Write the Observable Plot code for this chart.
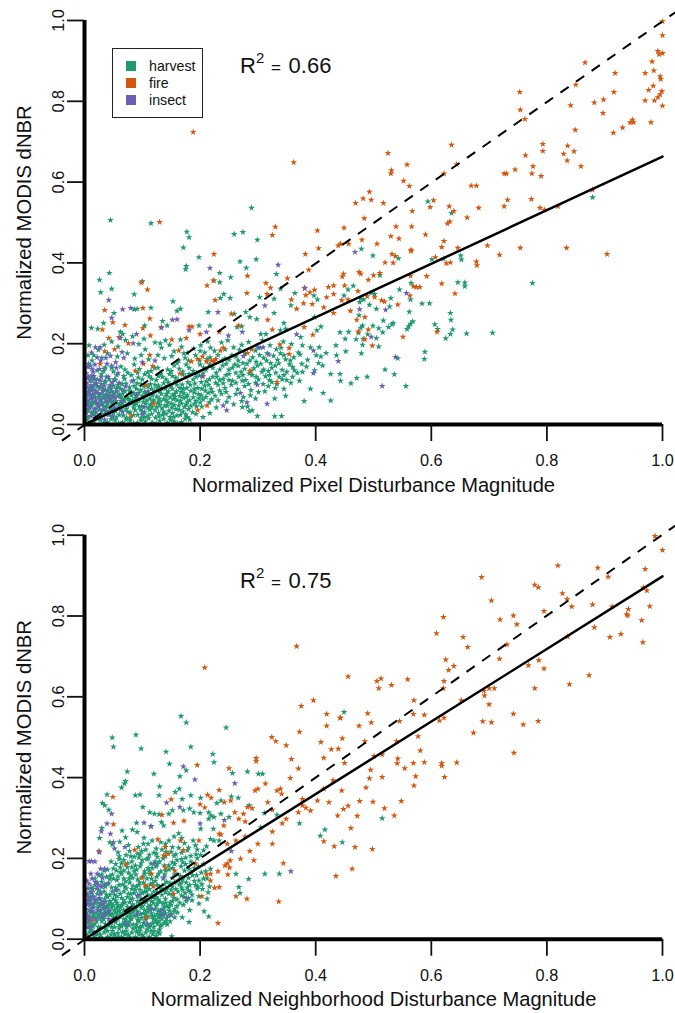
<!DOCTYPE html>
<html><head><meta charset="utf-8">
<script src="https://cdn.jsdelivr.net/npm/d3@7"></script>
<script src="https://cdn.jsdelivr.net/npm/@observablehq/plot@0.6"></script>
<style>
html,body{margin:0;padding:0;background:#fff;width:675px;height:1013px;overflow:hidden;font-family:"Liberation Sans",Arial,sans-serif;color:#111}
#wrap{position:relative;width:675px;height:1013px}
#wrap svg{display:block;position:absolute;left:0;overflow:visible}
.r2{position:absolute;font-size:22px;line-height:26px;white-space:nowrap}
.r2 sup{font-size:15px;line-height:0;vertical-align:10px;margin-left:0}
.r2 .eq{font-size:17px;margin:0 3px 0 2px}
#legend{position:absolute;left:112px;top:48px;width:89px;height:68px;border:1.6px solid #222;background:#fff;font-size:14.2px}
#legend div{position:absolute;left:36px;white-space:nowrap;line-height:17px}
#legend i{position:absolute;left:-23px;top:3px;width:10px;height:9.5px;display:block}
</style></head><body><div id="wrap"></div>
<script>
const ticks = [0, 0.2, 0.4, 0.6, 0.8, 1];
const colors = {harvest:"#1f9a70", fire:"#d4570f", insect:"#6a5fb8"};
const classes = ["harvest","fire","insect"];
const panels1 = {xLabel:"Normalized Pixel Disturbance Magnitude", yLabel:"Normalized MODIS dNBR", r2:"0.66"};
const panels2 = {xLabel:"Normalized Neighborhood Disturbance Magnitude", yLabel:"Normalized MODIS dNBR", r2:"0.75"};
const fit1 = [[0,0],[1,0.663]];
const fit2 = [[0,0],[1,0.898]];
const oneToOne1 = [[-0.039,-0.04],[1.0225,1.0205]];
const oneToOne2 = [[-0.039,-0.04],[1.0225,1.024]];

const topFire = [[1,.998],[1,.963],[.992,.924],[.994,.916],[1,.919],[.982,.898],[.97,.87],[.985,.876],[.996,.862],[.997,.855],[.984,.838],[.976,.828],[.999,.825],[.996,.817],[.992,.81],[.986,.802],[.97,.802],[1,.789],[.98,.748],[.948,.754],[.95,.748],[.944,.747],[.931,.735],[.915,.722],[.866,.896],[.918,.87],[.916,.823],[.898,.804],[.882,.797],[.897,.771],[.85,.841],[.841,.79],[.849,.729],[.753,.823],[.754,.779],[.762,.756],[.836,.69],[.829,.67],[.847,.676],[.835,.653],[.859,.639],[.793,.694],[.793,.677],[.763,.666],[.776,.639],[.774,.621],[.79,.615],[.745,.631],[.73,.621],[.726,.621],[.669,.591],[.678,.591],[.635,.692],[.644,.644],[.622,.621],[.525,.672],[.558,.643],[.531,.629],[.53,.621],[.552,.603],[.562,.59],[.493,.576],[.482,.559],[.496,.556],[.469,.548],[.517,.548],[.604,.555],[.598,.538],[.631,.54],[.639,.528],[.567,.528],[.484,.51],[.682,.536],[.662,.512],[.632,.502],[.628,.497],[.539,.49],[.566,.49],[.449,.487],[.59,.47],[.53,.466],[.544,.46],[.48,.457],[.506,.447],[.622,.454],[.618,.439],[.697,.443],[.646,.437],[.565,.432],[.457,.447],[.443,.447],[.754,.437],[.834,.437],[.879,.581],[.819,.54],[.796,.531],[.788,.536],[.773,.558],[.732,.556],[.726,.54],
[.188,.724],[.362,.649],[.13,.501],[.33,.489],[.325,.469],[.403,.48],[.405,.436],[.439,.443],
[.718,.42],[.904,.422],[.532,.422],[.538,.417],[.52,.401],[.534,.4],[.565,.429],[.626,.399],[.633,.401],[.678,.403],[.679,.394],[.607,.414],[.448,.373],[.446,.366],[.475,.377],[.478,.373],[.5,.369],[.511,.375],[.491,.358],[.564,.368],[.592,.367],[.618,.349],[.641,.324],[.45,.344],[.569,.342],[.574,.34],[.58,.34],[.473,.33],[.456,.309],[.445,.307],[.489,.317],[.502,.315],[.514,.307],[.519,.304],[.542,.297],[.563,.319],[.46,.281],[.471,.259],[.485,.266],[.491,.235],[.474,.23],[.485,.211],[.498,.195],[.551,.217],[.61,.229],
[.098,.351],[.109,.334],[.035,.283],[.049,.253],[.031,.235],[.07,.246],[.101,.288],[.113,.262],[.101,.238],[.114,.22],[.042,.214],[.06,.216],[.076,.201],[.052,.186],[.035,.181],[.027,.15],[.113,.172],[.102,.15],[.118,.144],[.088,.133],[.106,.098],[.133,.241],[.151,.21],[.176,.214],[.181,.242],[.186,.242],[.2,.224],[.224,.422],[.212,.344],[.223,.356],[.226,.308],[.282,.368],[.281,.325],[.314,.35],[.322,.338],[.316,.323],[.254,.274],[.317,.259],[.351,.362],[.382,.422],[.388,.383],[.381,.338],[.383,.32],[.39,.327],[.398,.333],[.358,.309],[.379,.3],[.367,.286],[.394,.298],[.431,.344],[.422,.34],[.419,.315],[.431,.323],[.414,.29],[.431,.276],[.38,.241],[.395,.222],[.325,.235],[.354,.189],[.354,.174],[.338,.198],[.289,.186],[.282,.177],[.286,.133],[.333,.105],[.24,.19],[.235,.183],[.227,.162],[.22,.158],[.211,.156],[.204,.168],[.196,.162],[.185,.156],[.224,.156],[.163,.183],[.233,.229],[.267,.245],[.165,.126],[.205,.119],[.196,.035],[.212,.047],[.12,.051],[.081,.022]];

const topInsect = [[.468,.427],[.557,.325],[.476,.285],[.521,.284],[.496,.217],[.538,.167],[.515,.095],
[.042,.308],[.047,.264],[.066,.285],[.08,.288],[.217,.387],[.335,.395],[.381,.337],[.312,.294],[.231,.278],[.152,.259],[.16,.26],[.133,.239],[.181,.233],[.211,.229],[.273,.229],[.249,.22],[.09,.224],[.062,.214],[.084,.201],[.019,.191],[.027,.191],[.045,.17],[.065,.179],[.068,.165],[.006,.142],[.013,.138],[.028,.158],[.039,.15],[.054,.154],[.1,.154],[.122,.158],[.3,.191],[.309,.191],[.319,.173],[.367,.223],[.396,.183],[.396,.127],[.439,.157],[.275,.169],[.204,.119],[.27,.078],[.299,.098],[.281,.055],[.316,.051],[.24,.047],[.246,.035],[.103,.043],
[.003,.127],[.007,.118],[.012,.121],[.018,.112],[.004,.103],[.011,.097],[.021,.101],[.027,.109],[.034,.096],[.041,.118],[.048,.104],[.002,.088],[.008,.082],[.016,.086],[.024,.078],[.031,.083],[.039,.074],[.046,.088],[.056,.081],[.003,.071],[.012,.066],[.019,.059],[.028,.063],[.036,.056],[.044,.062],[.053,.066],[.063,.058],[.004,.049],[.009,.042],[.017,.038],[.025,.044],[.033,.036],[.041,.029],[.052,.041],[.003,.028],[.011,.021],[.019,.017],[.027,.024],[.06,.103],[.071,.094],[.066,.031],[.076,.051],[.048,.021],[.015,.131],[.026,.137],[.058,.127],[.082,.107],[.09,.074],[.11,.082],[.1,.025],[.006,.06],[.014,.075],[.035,.012],[.022,.052]];

const topHarvest = [[.594,.552],[.635,.523],[.479,.435],[.879,.562],[.045,.506],[.115,.498],[.289,.536],[.177,.477],[.181,.463],[.259,.471],[.274,.476],[.299,.457],[.171,.438],
[.499,.418],[.543,.411],[.601,.409],[.621,.41],[.651,.418],[.652,.408],[.565,.35],[.646,.352],[.658,.351],[.658,.342],[.775,.35],[.545,.334],[.511,.369],[.465,.343],[.456,.334],[.449,.319],[.496,.326],[.502,.323],[.478,.311],[.483,.309],[.476,.303],[.53,.313],[.528,.292],[.493,.296],[.505,.286],[.564,.309],[.584,.299],[.597,.3],[.562,.279],[.633,.276],[.634,.259],[.475,.27],[.517,.257],[.534,.251],[.532,.248],[.526,.241],[.509,.238],[.499,.244],[.481,.245],[.478,.239],[.568,.255],[.564,.249],[.561,.243],[.558,.236],[.606,.248],[.611,.236],[.637,.235],[.633,.224],[.625,.213],[.661,.225],[.706,.227],[.516,.228],[.505,.214],[.49,.223],[.474,.227],[.457,.229],[.451,.212],[.47,.211],[.482,.212],[.481,.197],[.509,.193],[.452,.181],[.479,.176],[.589,.18],[.588,.162],[.542,.164],[.52,.136],[.536,.124],[.556,.095],[.489,.118],[.471,.115],[.461,.102],[.443,.108],
[.026,.358],[.043,.375],[.028,.327],[.047,.336],[.086,.322],[.1,.354],[.176,.392],[.175,.384],[.198,.414],[.269,.403],[.28,.388],[.297,.409],[.234,.375],[.253,.364],[.224,.356],[.234,.352],[.332,.372],[.153,.305],[.166,.286],[.16,.281],[.086,.285],[.091,.286],[.115,.289],[.051,.276],[.012,.239],[.023,.237],[.033,.251],[.062,.229],[.066,.224],[.104,.245],[.103,.212],[.135,.256],[.143,.245],[.14,.208],[.131,.201],[.166,.21],[.214,.278],[.241,.323],[.235,.313],[.252,.313],[.259,.274],[.279,.278],[.303,.315],[.328,.311],[.328,.276],[.286,.266],[.298,.261],[.264,.241],[.272,.243],[.217,.245],[.198,.245],[.339,.336],[.364,.325],[.357,.295],[.397,.319],[.403,.309],[.398,.266],[.409,.242],[.402,.233],[.442,.228],[.345,.251],[.339,.233],[.348,.237],[.305,.224],[.314,.224],[.374,.216],[.377,.196],[.391,.191],[.406,.191],[.435,.196],[.409,.168],[.412,.146],[.436,.171],[.363,.134],[.377,.13],[.426,.125],[.442,.125],[.413,.078],[.426,.059],[.38,.058],[.391,.088],[.329,.064],[.329,.02],[.341,.021],[.285,.033],[.29,.035],[.299,.021],[.273,.043],
[.008,.196],[.016,.171],[.024,.185],[.034,.197],[.047,.205],[.058,.193],[.071,.209],[.083,.218],[.094,.199],[.105,.186],[.122,.203],[.133,.19],[.147,.197],[.155,.181],[.168,.192],[.178,.177],[.189,.188],[.201,.196],[.213,.205],[.225,.182],[.237,.203],[.248,.208],[.258,.191],[.272,.197],[.284,.204],[.296,.183],[.308,.208],[.321,.196],[.332,.186],[.344,.205],[.358,.199],[.37,.178],
[.006,.171],[.013,.158],[.03,.165],[.04,.176],[.057,.168],[.074,.176],[.087,.163],[.098,.172],[.111,.161],[.127,.172],[.138,.164],[.151,.169],[.163,.158],[.174,.165],[.192,.171],[.208,.178],[.217,.166],[.231,.172],[.243,.163],[.255,.171],[.266,.158],[.278,.176],[.291,.166],[.303,.172],[.315,.158],[.327,.17],[.339,.176],[.348,.161],[.362,.166],[.373,.173],[.386,.16],[.401,.171],[.418,.177],
[.01,.146],[.022,.134],[.036,.141],[.05,.131],[.063,.143],[.075,.128],[.086,.148],[.095,.137],[.109,.129],[.121,.14],[.132,.126],[.144,.136],[.155,.146],[.17,.131],[.181,.14],[.194,.127],[.206,.141],[.216,.149],[.228,.128],[.239,.146],[.25,.136],[.26,.148],[.271,.13],[.281,.15],[.293,.139],[.305,.15],[.318,.132],[.33,.146],[.342,.135],[.355,.149],[.368,.128],[.384,.143],[.398,.134],[.405,.152],
[.014,.117],[.029,.124],[.043,.112],[.056,.122],[.069,.113],[.081,.122],[.093,.116],[.104,.124],[.116,.113],[.128,.12],[.141,.112],[.152,.12],[.163,.109],[.175,.118],[.188,.111],[.199,.121],[.211,.107],[.222,.118],[.234,.11],[.245,.122],[.256,.108],[.267,.118],[.279,.11],[.29,.122],[.301,.112],[.313,.119],[.324,.105],[.337,.118],[.35,.11],[.318,.095],[.345,.088],[.357,.103],[.372,.108],
[.018,.102],[.035,.105],[.05,.096],[.065,.1],[.078,.092],[.091,.102],[.103,.094],[.114,.1],[.126,.09],[.137,.102],[.149,.094],[.16,.098],[.171,.088],[.183,.098],[.196,.09],[.208,.096],[.219,.088],[.231,.098],[.243,.09],[.254,.098],[.265,.087],[.277,.095],[.288,.085],[.301,.08],[.312,.082],[.33,.09],[.348,.071],
[.008,.088],[.025,.09],[.04,.084],[.055,.088],[.07,.082],[.085,.078],[.097,.085],[.11,.077],[.121,.083],[.133,.076],[.145,.082],[.156,.075],[.167,.08],[.178,.072],[.19,.079],[.202,.072],[.214,.078],[.226,.071],[.237,.076],[.25,.068],[.262,.075],[.275,.068],[.287,.072],[.296,.064],[.231,.06],[.216,.055],[.205,.062],[.193,.058],[.246,.056],[.258,.05],[.272,.058],[.282,.044],[.228,.042],[.203,.044],[.217,.028],[.205,.018],[.193,.026],[.182,.012],
[.003,.08],[.015,.074],[.03,.076],[.045,.07],[.06,.074],[.073,.068],[.088,.066],[.1,.071],[.113,.064],[.125,.069],[.137,.062],[.148,.067],[.16,.06],[.171,.066],[.182,.06],[.176,.05],[.163,.047],[.15,.052],[.139,.047],[.127,.054],[.114,.049],[.102,.056],[.09,.052],[.079,.057],[.066,.053],[.053,.058],[.04,.052],[.027,.06],[.013,.056],[.002,.064],
[.008,.045],[.02,.04],[.033,.045],[.046,.039],[.059,.044],[.072,.038],[.085,.042],[.097,.037],[.11,.041],[.122,.035],[.134,.04],[.146,.034],[.158,.038],[.17,.032],[.18,.038],[.16,.022],[.148,.018],[.135,.024],[.123,.017],[.11,.022],[.098,.016],[.085,.023],[.073,.017],[.06,.024],[.048,.018],[.035,.026],[.023,.021],[.012,.028],[.002,.034],
[.005,.012],[.016,.008],[.028,.011],[.04,.006],[.053,.01],[.066,.005],[.079,.009],[.092,.004],[.105,.008],[.118,.004],[.13,.009],[.143,.004],[.155,.008],[.168,.006],[.03,.033],[.054,.033],[.079,.03],[.104,.03],[.128,.029],[.152,.028],[.175,.025],[.012,.002],[.038,.002],[.064,.001],[.09,.001],[.116,.002],[.005,.05],[.018,.068],[.034,.066],[.05,.05],[.066,.064],[.083,.06],[.095,.044],[.108,.059],[.12,.06],[.144,.055],[.156,.068],[.168,.052],[.002,.1],[.012,.11]];

const topHarvestDense = [[.011,.006],[.022,.014],[.034,.004],[.046,.013],[.059,.003],[.072,.012],[.085,.003],[.098,.011],[.111,.015],[.124,.002],[.137,.014],[.149,.011],[.161,.003],[.174,.014],[.006,.019],[.017,.025],[.029,.018],[.042,.024],[.055,.017],[.067,.022],[.079,.016],[.092,.024],[.104,.018],[.116,.026],[.129,.02],[.141,.026],[.154,.019],[.166,.024],[.178,.018],[.187,.03],
[.007,.035],[.015,.031],[.026,.037],[.038,.033],[.05,.028],[.063,.035],[.075,.031],[.088,.035],[.1,.032],[.113,.036],[.125,.043],[.137,.032],[.151,.042],[.164,.036],[.173,.043],[.184,.046],[.194,.044],[.012,.046],[.024,.05],[.037,.044],[.048,.047],[.062,.05],[.074,.046],[.087,.049],[.099,.045],[.117,.043],[.13,.048],[.143,.046],[.155,.048],[.166,.058],[.178,.056],[.19,.051],[.2,.054],
[.006,.056],[.018,.053],[.03,.054],[.043,.058],[.057,.053],[.069,.06],[.081,.052],[.094,.059],[.106,.051],[.118,.057],[.131,.057],[.142,.06],[.154,.063],[.165,.07],[.176,.068],[.188,.067],[.198,.065],[.21,.068],[.22,.062],[.011,.064],[.024,.068],[.037,.062],[.048,.066],[.062,.068],[.076,.063],[.09,.07],[.103,.066],[.117,.072],[.129,.064],[.141,.071],[.153,.074],
[.006,.074],[.021,.078],[.036,.072],[.05,.078],[.066,.076],[.081,.072],[.094,.078],[.106,.075],[.118,.078],[.13,.082],[.142,.076],[.159,.082],[.172,.077],[.184,.083],[.197,.075],[.209,.084],[.221,.08],[.234,.084],[.245,.08],[.012,.084],[.033,.088],[.047,.082],[.062,.088],[.078,.083],[.09,.088],[.104,.081],[.116,.088],[.128,.096],[.14,.089],[.152,.088],[.165,.09],[.177,.09],[.19,.088],[.203,.088],
[.016,.096],[.029,.1],[.043,.092],[.058,.098],[.072,.101],[.086,.095],[.098,.1],[.11,.094],[.122,.098],[.133,.09],[.145,.104],[.157,.106],[.169,.099],[.179,.105],[.191,.101],[.202,.105],[.215,.098],[.227,.103],[.24,.102],[.25,.11],[.262,.103],[.273,.108],[.284,.1],[.296,.103],[.309,.1],[.32,.11],[.333,.1],[.342,.112],
[.022,.112],[.038,.118],[.053,.11],[.068,.12],[.085,.109],[.1,.112],[.112,.119],[.124,.11],[.135,.118],[.147,.125],[.158,.116],[.17,.124],[.181,.125],[.193,.118],[.205,.126],[.216,.112],[.229,.118],[.24,.113],[.25,.125],[.262,.128],[.274,.122],[.285,.126],[.297,.118],[.307,.13],[.32,.122],[.331,.128],[.345,.122],[.36,.118],
[.033,.132],[.047,.14],[.07,.136],[.092,.128],[.115,.132],[.127,.14],[.15,.132],[.164,.138],[.176,.148],[.188,.132],[.2,.148],[.21,.135],[.222,.14],[.234,.136],[.245,.15],[.256,.14],[.266,.145],[.277,.138],[.288,.132],[.299,.146],[.31,.136],[.324,.14],[.336,.151],[.35,.13],[.36,.142],[.376,.15],
[.16,.152],[.18,.158],[.199,.158],[.212,.162],[.238,.158],[.25,.16],[.262,.168],[.274,.152],[.286,.158],[.297,.155],[.31,.165],[.322,.152],[.334,.16],[.345,.172],[.356,.158],[.172,.176],[.2,.182],[.218,.19],[.243,.186],[.268,.185],[.304,.19],[.316,.176],[.34,.19]];

const topInsectDense = [[.005,.115],[.01,.108],[.016,.12],[.022,.095],[.029,.118],[.036,.107],[.044,.097],[.052,.112],[.006,.092],[.013,.09],[.02,.082],[.028,.092],[.036,.085],[.044,.078],[.05,.072],[.058,.092],[.066,.085],[.004,.08],[.01,.074],[.018,.068],[.026,.072],[.033,.068],[.041,.067],[.048,.055],[.058,.07],[.005,.038],[.012,.052],[.02,.03],[.03,.05],[.038,.045],[.046,.036],[.007,.15],[.018,.148],[.022,.166],[.034,.138],[.047,.145],[.012,.178],[.037,.165],[.055,.14]];

const botFire = [[.987,.998],[1,.963],[.97,.916],[.888,.919],[.906,.897],[.819,.925],[.779,.877],[.785,.871],[.827,.856],[.835,.842],[.843,.823],[.879,.828],[.913,.823],[.967,.87],[.973,.863],[.941,.817],[.938,.804],[.94,.801],[.978,.824],[.964,.789],[.966,.735],[.882,.772],[.836,.749],[.909,.748],[.928,.755],[.873,.653],[.839,.631],[.795,.812],[.742,.801],[.748,.779],[.719,.791],[.687,.896],[.704,.838],[.621,.797],[.609,.757],[.655,.748],[.663,.723],[.731,.729],[.718,.694],[.768,.678],[.786,.69],[.795,.67],[.779,.621],[.625,.692],[.639,.676],[.63,.666],[.622,.639],[.621,.621],[.7,.621],[.709,.621],[.691,.615],[.692,.603],[.652,.591],[.7,.581],[.742,.558],[.689,.539],[.704,.537],[.759,.531],[.785,.54],[.673,.511],[.743,.461],[.456,.65],[.506,.639],[.513,.645],[.509,.621],[.531,.629],[.559,.643],[.57,.591],[.569,.557],[.588,.555],[.614,.541],[.622,.548],[.545,.54],[.49,.559],[.496,.536],[.475,.528],[.443,.548],[.446,.497],[.485,.49],[.54,.49],[.577,.502],[.581,.467],[.501,.453],[.515,.457],[.542,.447],
[.541,.435],[.554,.423],[.569,.436],[.588,.438],[.618,.436],[.618,.429],[.644,.437],[.623,.401],[.573,.403],[.57,.38],[.515,.401],[.495,.419],[.493,.398],[.487,.375],[.45,.436],[.445,.368],[.476,.342],[.499,.34],[.548,.342],[.519,.324],[.536,.306],[.456,.33],[.448,.322],[.472,.305],[.461,.275],[.468,.228],[.498,.223],[.463,.174],
[.367,.725],[.208,.672],[.375,.577],[.396,.591],[.419,.557],[.442,.548],[.419,.528],[.372,.513],[.324,.5],[.331,.49],[.349,.48],[.409,.488],[.427,.47],[.439,.471],[.297,.448],[.358,.446],[.414,.449],
[.049,.352],[.05,.284],[.025,.218],[.087,.221],[.071,.185],[.099,.152],[.116,.162],[.105,.133],[.119,.131],[.127,.247],[.134,.308],[.15,.346],[.154,.288],[.172,.293],[.195,.431],[.25,.423],[.233,.369],[.213,.357],[.219,.35],[.2,.334],[.208,.326],[.242,.339],[.253,.343],[.297,.441],[.37,.422],[.356,.399],[.313,.385],[.295,.368],[.3,.372],[.333,.368],[.339,.372],[.341,.36],[.317,.339],[.377,.347],[.403,.343],[.423,.339],[.414,.372],[.43,.393],[.377,.331],[.383,.325],[.391,.318],[.37,.314],[.349,.298],[.342,.287],[.325,.32],[.282,.327],[.29,.324],[.275,.31],[.26,.314],[.267,.298],[.278,.291],[.241,.281],[.233,.261],[.236,.259],[.262,.244],[.247,.236],[.278,.254],[.325,.266],[.325,.236],[.3,.236],[.286,.218],[.27,.199],[.293,.195],[.252,.195],[.247,.187],[.243,.182],[.251,.177],[.231,.168],[.248,.16],[.218,.162],[.211,.16],[.218,.145],[.225,.127],[.233,.129],[.203,.106],[.262,.106],[.281,.1],[.336,.093],[.344,.188],[.231,.04],[.435,.156],[.414,.242],[.432,.23],[.438,.306],[.198,.244],[.166,.244],[.171,.22],[.14,.228],[.145,.211],[.156,.17],[.14,.178],[.137,.207],[.154,.112],[.192,.187],[.107,.054],[.013,.046]];

const botInsect = [[.171,.427],[.191,.395],[.26,.386],[.142,.338],[.165,.327],[.047,.31],[.039,.286],[.029,.267],[.045,.261],[.05,.24],[.052,.224],[.07,.228],[.026,.215],[.008,.193],[.012,.193],[.018,.192],[.028,.174],[.035,.174],[.022,.162],[.103,.288],[.115,.279],[.2,.286],[.242,.295],[.254,.218],[.357,.168],[.019,.141],[.008,.137],[.006,.125],[.013,.116],[.028,.112],[.054,.121],[.039,.137],[.092,.108],[.12,.187],[.137,.153],[.132,.071],[.137,.059],[.15,.059],[.177,.102],[.117,.075],[.034,.063],[.004,.059],[.002,.075],[.011,.087],[.016,.079],[.028,.087],[.006,.096],[.008,.046],[.011,.067],[.004,.03],[.051,.046],[.074,.038],[.091,.063],[.109,.038],[.011,.162],[.003,.112],[.016,.104],[.024,.134],[.031,.152],[.002,.048],[.009,.03],[.017,.016]];

const botInsectDense = [[.004,.145],[.013,.15],[.021,.125],[.03,.13],[.007,.105],[.018,.096],[.026,.1],[.036,.092],[.005,.085],[.014,.07],[.024,.072],[.033,.078],[.042,.07],[.006,.052],[.018,.05],[.03,.056],[.042,.05]];

const botHarvest = [[.449,.562],[.515,.299],[.446,.24],[.048,.499],[.05,.476],[.089,.506],[.098,.472],[.141,.464],[.184,.476],[.167,.552],[.176,.536],[.245,.524],[.222,.458],
[.074,.415],[.071,.391],[.069,.385],[.064,.375],[.039,.358],[.088,.356],[.096,.358],[.12,.409],[.147,.434],[.13,.378],[.129,.356],[.165,.403],[.176,.418],[.164,.372],[.157,.364],[.169,.347],[.184,.356],[.201,.35],[.224,.438],[.256,.411],[.282,.415],[.301,.409],[.308,.409],[.254,.353],[.266,.35],[.236,.343],[.229,.337],[.031,.337],[.035,.331],[.042,.32],[.101,.327],[.113,.314],[.121,.31],[.129,.309],[.152,.319],[.146,.31],[.171,.319],[.182,.323],[.189,.314],[.2,.312],[.215,.314],[.219,.306],[.215,.298],[.224,.302],[.236,.31],[.25,.302],[.285,.331],[.311,.312],[.333,.308],[.305,.277],[.372,.287],[.416,.271],[.408,.256],[.09,.288],[.115,.279],[.133,.29],[.137,.281],[.03,.275],[.026,.25],[.065,.269],[.083,.271],[.091,.265],[.071,.252],[.044,.24],[.048,.234],[.103,.251],[.117,.244],[.155,.254],[.163,.262],[.188,.244],[.218,.248],[.224,.244],[.233,.244],[.201,.273],[.223,.273],[.262,.162],[.284,.149],[.312,.162],[.337,.162],[.267,.129],[.269,.114],[.214,.116],[.212,.1],[.207,.069],[.215,.056],[.181,.042],[.169,.054],[.151,.007],
[.061,.241],[.076,.233],[.093,.228],[.11,.236],[.124,.224],[.14,.236],[.152,.228],[.173,.238],[.18,.226],[.195,.222],[.211,.23],[.058,.215],[.072,.208],[.086,.204],[.099,.218],[.112,.209],[.126,.204],[.141,.216],[.155,.206],[.168,.214],[.184,.206],[.201,.208],[.046,.192],[.06,.198],[.075,.188],[.088,.182],[.1,.196],[.115,.187],[.13,.192],[.146,.183],[.16,.196],[.175,.186],[.19,.176],[.206,.186],[.218,.174],[.034,.17],[.048,.16],[.062,.178],[.076,.165],[.09,.172],[.104,.168],[.117,.176],[.132,.168],[.146,.172],[.16,.161],[.173,.17],[.187,.158],[.202,.165],[.212,.15],
[.018,.15],[.03,.142],[.044,.148],[.058,.155],[.071,.143],[.083,.152],[.095,.14],[.108,.15],[.122,.144],[.136,.15],[.148,.138],[.162,.145],[.176,.14],[.19,.144],[.203,.136],[.216,.13],[.195,.125],[.18,.12],[.168,.128],[.15,.122],[.172,.104],[.186,.096],[.198,.088],[.182,.072],[.171,.085],[.16,.098],[.15,.085],[.14,.1],[.161,.066],[.147,.07],[.135,.06],[.148,.044],[.134,.035],[.12,.02],[.13,.014],
[.012,.128],[.024,.122],[.036,.13],[.048,.118],[.06,.134],[.072,.126],[.084,.132],[.096,.122],[.108,.13],[.12,.118],[.132,.125],[.014,.106],[.026,.102],[.038,.11],[.05,.1],[.062,.112],[.074,.104],[.086,.114],[.098,.1],[.11,.108],[.122,.1],[.134,.11],[.005,.11],[.006,.088],[.018,.09],[.03,.094],[.042,.086],[.054,.096],[.066,.088],[.078,.092],[.09,.082],[.102,.09],[.114,.084],[.126,.088],[.138,.08],
[.008,.072],[.02,.066],[.032,.076],[.044,.07],[.056,.078],[.068,.072],[.08,.074],[.092,.068],[.104,.072],[.116,.064],[.128,.07],[.14,.064],[.014,.056],[.026,.052],[.038,.06],[.05,.054],[.062,.06],[.074,.056],[.086,.058],[.098,.052],[.11,.056],[.122,.048],[.134,.05],[.006,.04],[.018,.038],[.03,.044],[.042,.036],[.054,.042],[.066,.038],[.078,.044],[.09,.036],[.102,.04],[.114,.034],[.126,.038],[.012,.024],[.024,.02],[.036,.026],[.048,.02],[.06,.026],[.072,.02],[.084,.026],[.096,.02],[.108,.024],[.12,.03],[.004,.012],[.016,.008],[.028,.011],[.04,.006],[.052,.012],[.064,.006],[.076,.011],[.088,.005],[.1,.01],[.112,.006],[.124,.008],[.02,.002],[.044,.001],[.068,.002],[.092,.001],[.035,.1],[.047,.078],[.059,.068],[.071,.048],[.083,.1],[.095,.11],[.107,.118],[.119,.09],[.023,.078],[.011,.095],[.035,.058],[.047,.03],[.058,.015],[.073,.03],[.097,.03],[.082,.066],[.106,.064],[.128,.054]];

const botHarvestDense = [[.009,.018],[.022,.012],[.034,.017],[.046,.011],[.058,.006],[.07,.012],[.082,.016],[.094,.012],[.106,.016],[.118,.012],[.13,.024],[.007,.03],[.015,.032],[.028,.03],[.04,.034],[.052,.03],[.064,.032],[.077,.034],[.089,.028],[.1,.032],[.112,.03],[.124,.044],[.138,.04],
[.01,.048],[.021,.044],[.033,.05],[.046,.044],[.058,.05],[.07,.042],[.081,.05],[.094,.044],[.106,.048],[.118,.04],[.13,.058],[.142,.052],[.004,.064],[.016,.062],[.029,.064],[.041,.066],[.054,.066],[.067,.064],[.079,.062],[.091,.058],[.102,.064],[.114,.072],[.126,.062],[.138,.07],[.15,.062],
[.012,.078],[.026,.082],[.038,.08],[.05,.084],[.062,.078],[.074,.08],[.086,.082],[.098,.078],[.11,.08],[.122,.074],[.134,.074],[.146,.078],[.156,.074],[.006,.098],[.02,.098],[.032,.088],[.044,.094],[.056,.09],[.068,.096],[.08,.1],[.092,.094],[.104,.1],[.116,.094],[.128,.098],[.14,.09],[.152,.094],[.165,.09],[.176,.094],
[.01,.116],[.022,.112],[.034,.118],[.044,.11],[.056,.106],[.068,.118],[.08,.112],[.092,.106],[.104,.118],[.116,.11],[.126,.116],[.14,.116],[.152,.11],[.162,.118],[.174,.114],[.186,.11],[.198,.106],[.018,.134],[.03,.13],[.042,.138],[.054,.128],[.066,.136],[.078,.14],[.09,.13],[.102,.14],[.114,.136],[.126,.134],[.138,.136],[.152,.13],[.164,.136],[.178,.128],[.192,.134],[.204,.124],
[.025,.158],[.038,.154],[.05,.15],[.064,.162],[.077,.15],[.089,.16],[.101,.154],[.113,.162],[.125,.154],[.139,.16],[.152,.152],[.166,.156],[.18,.152],[.194,.158],[.206,.15],[.04,.172],[.055,.17],[.068,.17],[.082,.178],[.096,.18],[.11,.176],[.124,.18],[.138,.182],[.152,.176],[.167,.18],[.181,.174],[.197,.18],[.21,.168],
[.054,.186],[.068,.196],[.082,.192],[.094,.202],[.108,.198],[.122,.192],[.136,.2],[.152,.19],[.168,.198],[.184,.192],[.195,.2],[.06,.205],[.078,.218],[.092,.212],[.106,.222],[.12,.214],[.134,.222],[.15,.216],[.163,.226],[.178,.22],[.193,.21],[.102,.236],[.132,.24],[.146,.244],[.168,.25],[.192,.232],[.206,.22],
[.015,.017],[.028,.005],[.04,.02],[.052,.004],[.066,.018],[.078,.006],[.09,.019],[.102,.006],[.115,.02],[.127,.017],[.012,.037],[.024,.03],[.036,.038],[.047,.04],[.06,.035],[.071,.036],[.084,.036],[.095,.028],[.107,.034],[.119,.05],[.131,.032],[.143,.036],[.009,.056],[.02,.054],[.032,.058],[.044,.06],[.056,.058],[.068,.05],[.08,.054],[.092,.048],[.105,.054],[.117,.056],[.129,.044],[.141,.044],[.156,.054],[.012,.066],[.024,.06],[.036,.068],[.048,.062],[.06,.07],[.073,.066],[.085,.07],[.097,.062],[.109,.068],[.121,.058],[.133,.064],[.145,.058],[.155,.068],
[.015,.084],[.028,.07],[.04,.078],[.052,.072],[.064,.084],[.076,.068],[.088,.076],[.1,.082],[.112,.076],[.124,.082],[.136,.088],[.148,.09],[.16,.082],[.01,.104],[.023,.09],[.035,.082],[.047,.088],[.058,.084],[.07,.09],[.083,.086],[.095,.088],[.107,.092],[.119,.104],[.131,.092],[.143,.082],[.155,.102],[.168,.108],[.18,.102],[.014,.124],[.028,.116],[.04,.104],[.052,.11],[.064,.102],[.076,.112],[.088,.122],[.1,.114],[.112,.124],[.124,.104],[.136,.122],[.146,.112],[.158,.124],[.17,.122],[.183,.118],[.022,.14],[.035,.136],[.047,.128],[.058,.122],[.07,.13],[.082,.124],[.094,.134],[.106,.128],[.118,.138],[.13,.13],[.142,.124],[.156,.14],[.168,.14],[.182,.134],[.196,.13],
[.03,.16],[.044,.156],[.056,.146],[.068,.15],[.08,.158],[.092,.148],[.104,.162],[.116,.15],[.128,.162],[.142,.142],[.156,.16],[.17,.148],[.185,.165],[.198,.145],[.05,.175],[.062,.166],[.074,.178],[.086,.168],[.098,.188],[.112,.17],[.126,.186],[.14,.17],[.156,.186],[.17,.19],[.064,.188],[.08,.205],[.096,.21],[.11,.2],[.124,.212],[.14,.205],[.158,.21],[.175,.202]];

const wrap = document.getElementById("wrap");

function chart(p, harvest, harvestDense, fire, insect, insectDense, fit, oneToOne, top, height, marginTop, marginBottom) {
  const star = (data, fill) => Plot.dot(data, {x: d => d[0], y: d => d[1], symbol: "star", r: 2.15, fill, stroke: "none"});
  const svg = Plot.plot({
    width: 675, height, marginLeft: 84, marginRight: 13, marginTop, marginBottom,
    style: {background: "transparent", fontFamily: '"Liberation Sans", Arial, sans-serif', color: "#111"},
    x: {domain: [0, 1]}, y: {domain: [0, 1]},
    marks: [
      star(insectDense, colors.insect),
      star(harvestDense, colors.harvest),
      star(harvest, colors.harvest),
      star(fire, colors.fire),
      star(insect, colors.insect),
      Plot.ruleX([0], {y1: 0, y2: 1, stroke: "#000", strokeWidth: 4}),
      Plot.ruleY([0], {x1: 0, x2: 1, stroke: "#000", strokeWidth: 4}),
      Plot.axisX({ticks, tickFormat: ".1f", tickSize: 17, tickPadding: 13, fontSize: 16.3, label: null, strokeWidth: 1.8}),
      Plot.axisY({ticks, tickFormat: ".1f", tickSize: 17, tickPadding: 4, tickRotate: -90, fontSize: 16.3, label: null, strokeWidth: 1.8}),
      Plot.text([p.xLabel], {text: d => d, frameAnchor: "bottom", dy: 60.7, fontSize: 20.1, fill: "#111", lineAnchor: "middle"}),
      Plot.text([p.yLabel], {text: d => d, frameAnchor: "left", textAnchor: "middle", dx: -60, rotate: -90, fontSize: 20.3, fill: "#111"}),
      Plot.line(oneToOne, {x: d => d[0], y: d => d[1], stroke: "#000", strokeWidth: 2, strokeDasharray: "10,9", strokeLinecap: "butt"}),
      Plot.line(fit, {x: d => d[0], y: d => d[1], stroke: "#000", strokeWidth: 2.5})
    ]
  });
  svg.style.top = top + "px";
  wrap.appendChild(svg);
}

chart(panels1, topHarvest, topHarvestDense, topFire, topInsect, topInsectDense, fit1, oneToOne1, 0, 506, 20, 82);
chart(panels2, botHarvest, botHarvestDense, botFire, botInsect.concat(botInsectDense), [], fit2, oneToOne2, 506, 507, 28.7, 74.3);

function r2(value, left, top) {
  const d = document.createElement("div");
  d.className = "r2";
  d.style.left = left + "px"; d.style.top = top + "px";
  d.innerHTML = 'R<sup>2</sup><span class="eq"> = </span>' + value;
  wrap.appendChild(d);
}
r2(panels1.r2, 240, 53);
r2(panels2.r2, 240, 568);

const legend = document.createElement("div");
legend.id = "legend";
classes.forEach((c, i) => {
  const row = document.createElement("div");
  row.style.top = (9 + i * 17) + "px";
  row.innerHTML = '<i style="background:' + colors[c] + '"></i>' + c;
  legend.appendChild(row);
});
wrap.appendChild(legend);
</script></body></html>
